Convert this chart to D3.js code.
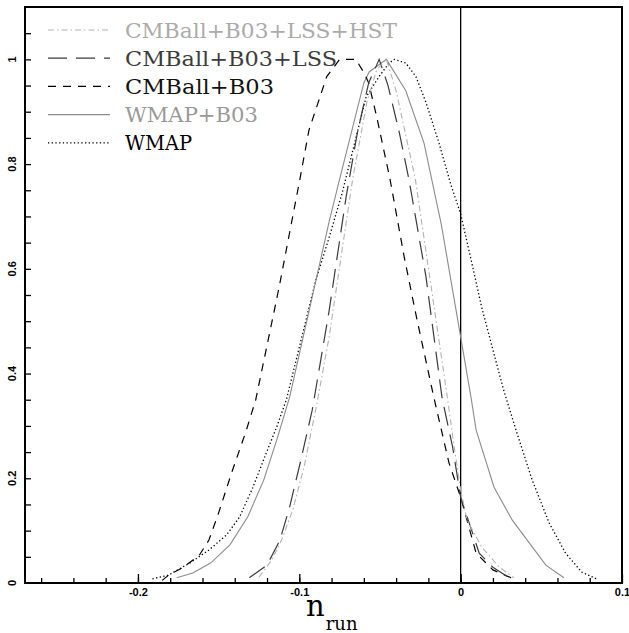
<!DOCTYPE html>
<html>
<head>
<meta charset="utf-8">
<script src="https://cdn.jsdelivr.net/npm/d3@7"></script>
<style>
  body { margin: 0; background: #fff; }
  svg { display: block; }
</style>
</head>
<body>
<div class="chart"></div>
<script>
// marginalised likelihood curves for n_run, [x, y] pairs
var wmap = [[-0.191,0.008],[-0.181,0.015],[-0.168,0.038],[-0.156,0.063],[-0.145,0.092],[-0.137,0.126],[-0.129,0.181],[-0.1205,0.248],[-0.114,0.298],[-0.108,0.35],[-0.0897,0.579],[-0.0815,0.66],[-0.0734,0.745],[-0.0586,0.928],[-0.0506,0.967],[-0.0444,0.993],[-0.041,1.0],[-0.034,0.993],[-0.0277,0.967],[-0.0214,0.917],[-0.0134,0.84],[-0.006,0.76],[0,0.705],[0.007,0.61],[0.013,0.527],[0.0196,0.45],[0.0265,0.37],[0.0343,0.292],[0.0443,0.197],[0.0548,0.115],[0.065,0.057],[0.075,0.021],[0.084,0.008]];
var wmapB03 = [[-0.176,0.01],[-0.166,0.019],[-0.155,0.038],[-0.143,0.073],[-0.132,0.126],[-0.122,0.197],[-0.114,0.273],[-0.106,0.355],[-0.0815,0.69],[-0.0755,0.765],[-0.06,0.955],[-0.0567,0.976],[-0.046,1.0],[-0.034,0.94],[-0.0227,0.84],[-0.012,0.685],[0,0.47],[0.0065,0.353],[0.0096,0.292],[0.0207,0.183],[0.032,0.12],[0.0528,0.034],[0.064,0.01]];
var cmbB03 = [[-0.185,0.005],[-0.181,0.015],[-0.172,0.03],[-0.162,0.053],[-0.156,0.082],[-0.15,0.134],[-0.142,0.21],[-0.133,0.29],[-0.127,0.35],[-0.1125,0.565],[-0.0997,0.77],[-0.094,0.865],[-0.083,0.967],[-0.075,1.0],[-0.065,1.0],[-0.06,0.975],[-0.057,0.955],[-0.052,0.89],[-0.0437,0.77],[-0.035,0.623],[-0.027,0.502],[-0.0165,0.353],[-0.0072,0.229],[0,0.164],[0.0096,0.057],[0.02,0.025],[0.035,0.005]];
var cmbB03LSS = [[-0.131,0.01],[-0.12,0.034],[-0.112,0.082],[-0.106,0.145],[-0.099,0.235],[-0.092,0.33],[-0.0815,0.52],[-0.071,0.737],[-0.064,0.86],[-0.057,0.955],[-0.0505,1.0],[-0.045,0.95],[-0.038,0.86],[-0.032,0.77],[-0.0215,0.585],[-0.0115,0.353],[-0.005,0.26],[0,0.164],[0.0115,0.057],[0.02,0.03],[0.03,0.01]];
var cmbB03LSSHST = [[-0.125,0.011],[-0.117,0.044],[-0.111,0.082],[-0.104,0.14],[-0.097,0.222],[-0.089,0.344],[-0.0815,0.47],[-0.067,0.77],[-0.058,0.92],[-0.052,0.98],[-0.046,1.0],[-0.04,0.94],[-0.028,0.77],[-0.0085,0.36],[-0.004,0.26],[0,0.178],[0.004,0.12],[0.013,0.069],[0.024,0.03],[0.033,0.01]];

var labels = ["CMBall+B03+LSS+HST", "CMBall+B03+LSS", "CMBall+B03", "WMAP+B03", "WMAP"];
var xMajor = [-0.2, -0.1, 0, 0.1];
var yMajor = [0, 0.2, 0.4, 0.6, 0.8, 1];

var series = [
  { name: labels[0], data: cmbB03LSSHST, color: "#b3b3b3", dash: "6,3,1.5,3", w: 1.1, text: "#ababab", tw: 272 },
  { name: labels[1], data: cmbB03LSS, color: "#3c3c3c", dash: "19,9", w: 1.2, text: "#3c3c3c", tw: 212 },
  { name: labels[2], data: cmbB03, color: "#000", dash: "8,7", w: 1.2, text: "#111", tw: 149 },
  { name: labels[3], data: wmapB03, color: "#8c8c8c", dash: null, w: 1.1, text: "#999", tw: 133 },
  { name: labels[4], data: wmap, color: "#000", dash: "1.3,2.4", w: 1.3, text: "#000", tw: 67 }
];

var width = 629, height = 633;
var svg = d3.select(".chart").append("svg").attr("width", width).attr("height", height);

var x = d3.scaleLinear().domain([-0.27, 0.1]).range([25, 622]);
var y = d3.scaleLinear().domain([0, 1.1]).range([583, 7]);

// frame
svg.append("rect")
  .attr("x", x(-0.27)).attr("y", y(1.1))
  .attr("width", x(0.1) - x(-0.27)).attr("height", y(0) - y(1.1))
  .attr("fill", "none").attr("stroke", "#000").attr("stroke-width", 2);

// zero line
svg.append("line")
  .attr("x1", x(0)).attr("x2", x(0)).attr("y1", y(0)).attr("y2", y(1.1))
  .attr("stroke", "#000").attr("stroke-width", 1.3);

// ticks
var xMinor = d3.range(-13, 5).map(i => +(i * 0.02).toFixed(2));
var yMinor = d3.range(1, 22).map(i => +(i * 0.05).toFixed(2));

svg.append("g").attr("transform", `translate(0,${y(0)})`)
  .call(d3.axisBottom(x).tickValues(xMinor).tickSize(-5).tickFormat(""))
  .call(g => g.select(".domain").remove())
  .selectAll("line").attr("stroke-width", 1.3);
var xg = svg.append("g").attr("transform", `translate(0,${y(0)})`)
  .call(d3.axisBottom(x).tickValues(xMajor).tickSize(-9).tickPadding(4)
    .tickFormat(d => d === 0 ? "0" : d3.format(".1f")(d).replace("−", "-")));
xg.select(".domain").remove();
xg.selectAll("line").attr("stroke-width", 1.3);
xg.selectAll("text")
  .attr("y", 13).attr("dy", 0)
  .style("font", "bold 11px 'Liberation Sans', Arial, sans-serif").attr("fill", "#000");

svg.append("g").attr("transform", `translate(${x(-0.27)},0)`)
  .call(d3.axisLeft(y).tickValues(yMinor).tickSize(-6).tickFormat(""))
  .call(g => g.select(".domain").remove())
  .selectAll("line").attr("stroke-width", 1.3);

var yg = svg.append("g").attr("class", "ylab");
yg.selectAll("text").data(yMajor).join("text")
  .attr("transform", d => `translate(16,${y(d)}) rotate(-90)`)
  .attr("text-anchor", "middle")
  .style("font", "bold 11px 'Liberation Sans', Arial, sans-serif")
  .text(d => d === 0 ? "0" : d === 1 ? "1" : d3.format(".1f")(d));

// curves
var line = d3.line().x(d => x(d[0])).y(d => y(d[1]));
svg.append("g").selectAll("path").data(series.slice().reverse()).join("path")
  .attr("d", d => line(d.data))
  .attr("fill", "none")
  .attr("stroke", d => d.color)
  .attr("stroke-width", d => d.w)
  .attr("stroke-dasharray", d => d.dash);

// legend
var leg = svg.append("g");
series.forEach(function (s, i) {
  var yy = 30 + i * 28.2;
  leg.append("line")
    .attr("x1", 48).attr("x2", 110).attr("y1", yy).attr("y2", yy)
    .attr("stroke", s.color).attr("stroke-width", s.w)
    .attr("stroke-dasharray", s.dash);
  leg.append("text")
    .attr("x", 125).attr("y", yy + 7.5)
    .attr("textLength", s.tw).attr("lengthAdjust", "spacingAndGlyphs")
    .style("font", "20px 'DejaVu Serif', serif")
    .attr("fill", s.text)
    .text(s.name);
});

// axis title n_run
var tt = svg.append("text").attr("x", 306).attr("y", 616)
  .style("font-family", "'DejaVu Serif', serif");
tt.append("tspan").style("font-size", "29px").text("n");
tt.append("tspan").attr("dy", 14).attr("dx", 1).style("font-size", "18px").text("run");
</script>
</body>
</html>
